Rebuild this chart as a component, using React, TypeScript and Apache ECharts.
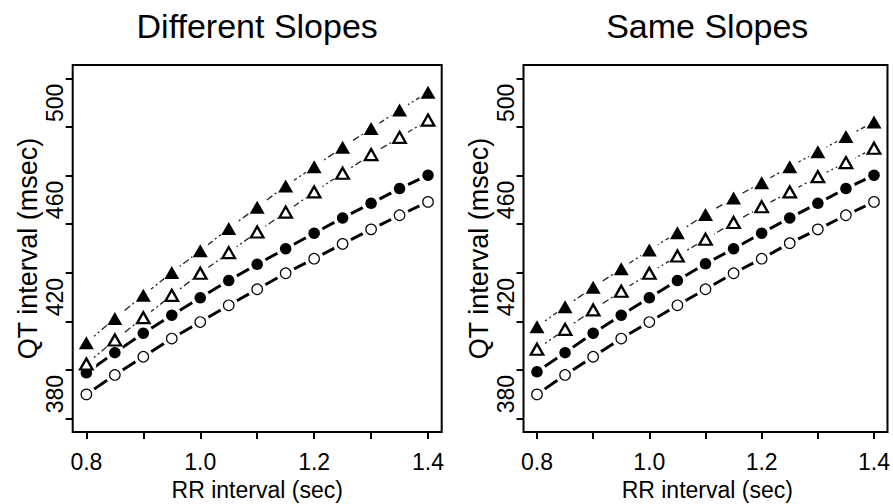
import { useEffect, useRef } from "react";
import * as echarts from "echarts";

// RR interval (sec) at which each point is plotted
const rrValues = [0.8, 0.85, 0.9, 0.95, 1.0, 1.05, 1.1, 1.15, 1.2, 1.25, 1.3, 1.35, 1.4];

// Axis ticks / labels
const xTickValues = [0.8, 0.9, 1.0, 1.1, 1.2, 1.3, 1.4];
const xLabelValues = [0.8, 1.0, 1.2, 1.4];
const yTickValues = [370, 390, 410, 430, 450, 470, 490, 510];
const yLabelValues = [380, 420, 460, 500];

const panelTitles = ["Different Slopes", "Same Slopes"];
const xAxisTitle = "RR interval (sec)";
const yAxisTitle = "QT interval (msec)";

// Left panel: Different Slopes (QT interval, msec)
const leftOpenCircle = [379.9, 387.9, 395.4, 402.9, 409.7, 416.6, 423.2, 429.8, 435.8, 441.9, 447.9, 453.7, 459.2];
const leftFilledCircle = [388.8, 397.1, 405.1, 412.5, 419.7, 426.8, 433.5, 439.9, 446.3, 452.6, 458.6, 464.7, 470.2];
const leftOpenTriangle = [392.4, 402.3, 411.5, 420.7, 429.8, 438.3, 446.8, 455.0, 463.3, 471.0, 478.7, 485.8, 492.9];
const leftFilledTriangle = [401.2, 411.2, 420.7, 430.1, 439.1, 448.2, 457.0, 465.8, 473.7, 481.7, 489.4, 497.1, 504.4];

// Right panel: Same Slopes (QT interval, msec)
const rightOpenCircle = [379.9, 387.9, 395.4, 402.9, 409.7, 416.6, 423.2, 429.8, 435.8, 442.2, 447.9, 453.7, 459.2];
const rightFilledCircle = [389.2, 397.1, 405.1, 412.5, 419.7, 426.8, 433.7, 439.9, 446.3, 452.6, 458.6, 464.7, 470.2];
const rightOpenTriangle = [398.5, 406.7, 414.7, 422.4, 429.8, 436.9, 443.8, 450.7, 457.2, 463.3, 469.6, 475.4, 481.3];
const rightFilledTriangle = [407.8, 416.0, 424.0, 431.7, 439.4, 446.5, 454.0, 460.8, 467.1, 473.7, 479.9, 486.1, 492.1];

const FONT = "'Liberation Sans', Arial, Helvetica, sans-serif";

type MarkerStyle = {
  symbol: string;
  size: number | number[];
  fill: string;
  border: number;
  halo: number;
  lineWidth: number;
  lineType: any;
  lineColor: string;
};

const openCircleStyle: MarkerStyle = { symbol: "circle", size: 10.5, fill: "#fff", border: 1.2, halo: 19, lineWidth: 3, lineType: "solid", lineColor: "#000" };
const filledCircleStyle: MarkerStyle = { symbol: "circle", size: 11.5, fill: "#000", border: 0, halo: 19, lineWidth: 3, lineType: "solid", lineColor: "#000" };
const openTriangleStyle: MarkerStyle = { symbol: "triangle", size: [12.5, 11], fill: "#fff", border: 2.3, halo: 20, lineWidth: 1.3, lineType: [2, 3, 7, 3], lineColor: "#222" };
const filledTriangleStyle: MarkerStyle = { symbol: "triangle", size: [15, 13], fill: "#000", border: 0, halo: 20, lineWidth: 1.3, lineType: [2, 3, 7, 3], lineColor: "#222" };

function groupSeries(values: number[], st: MarkerStyle, gi: number) {
  const data = rrValues.map((x, i) => [x, values[i]]);
  return [
    {
      type: "line",
      xAxisIndex: gi,
      yAxisIndex: gi,
      data,
      symbol: "none",
      showSymbol: false,
      silent: true,
      z: 2,
      lineStyle: { color: st.lineColor, width: st.lineWidth, type: st.lineType },
    },
    {
      type: "scatter",
      xAxisIndex: gi,
      yAxisIndex: gi,
      data,
      symbol: "circle",
      symbolSize: st.halo,
      silent: true,
      z: 3,
      itemStyle: { color: "#fff", opacity: 1 },
    },
    {
      type: "scatter",
      xAxisIndex: gi,
      yAxisIndex: gi,
      data,
      symbol: st.symbol,
      symbolSize: st.size,
      silent: true,
      z: 4,
      itemStyle: { color: st.fill, borderColor: "#000", borderWidth: st.border, opacity: 1 },
    },
  ];
}

const grids = [
  { left: 72.7, top: 65, width: 369, height: 367 },
  { left: 523.5, top: 65, width: 367.5, height: 367 },
];

export default function App() {
  const ref = useRef<HTMLDivElement>(null);

  useEffect(() => {
    if (!ref.current) return;
    const chart = echarts.init(ref.current, undefined, { renderer: "svg" });

    const xAxes = grids.map((_, gi) => ({
      type: "value",
      gridIndex: gi,
      min: 0.776,
      max: 1.424,
      axisLine: { show: false },
      splitLine: { show: false },
      axisTick: { show: true, length: 7, lineStyle: { color: "#000", width: 2 }, customValues: xTickValues },
      axisLabel: {
        customValues: xLabelValues,
        formatter: (v: number) => v.toFixed(1),
        margin: 18,
        fontSize: 23,
        color: "#000",
        fontFamily: FONT,
      },
    }));

    const yAxes = grids.map((_, gi) => ({
      type: "value",
      gridIndex: gi,
      min: 364.4,
      max: 515.6,
      axisLine: { show: false },
      splitLine: { show: false },
      axisTick: { show: true, length: 7, lineStyle: { color: "#000", width: 2 }, customValues: yTickValues },
      axisLabel: {
        customValues: yLabelValues,
        rotate: 90,
        margin: 6,
        fontSize: 23,
        color: "#000",
        fontFamily: FONT,
      },
    }));

    const series = [
      ...groupSeries(leftOpenCircle, openCircleStyle, 0),
      ...groupSeries(leftFilledCircle, filledCircleStyle, 0),
      ...groupSeries(leftOpenTriangle, openTriangleStyle, 0),
      ...groupSeries(leftFilledTriangle, filledTriangleStyle, 0),
      ...groupSeries(rightOpenCircle, openCircleStyle, 1),
      ...groupSeries(rightFilledCircle, filledCircleStyle, 1),
      ...groupSeries(rightOpenTriangle, openTriangleStyle, 1),
      ...groupSeries(rightFilledTriangle, filledTriangleStyle, 1),
    ];

    const graphics: any[] = [];
    grids.forEach((g, gi) => {
      const cx = g.left + g.width / 2;
      const cy = g.top + g.height / 2;
      graphics.push({
        type: "text",
        x: cx,
        y: 26,
        style: { text: panelTitles[gi], fontSize: 34, fontFamily: FONT, fill: "#000", align: "center", verticalAlign: "middle", textAlign: "center", textVerticalAlign: "middle" },
      });
      graphics.push({
        type: "text",
        x: cx,
        y: 490,
        style: { text: xAxisTitle, fontSize: 23, fontFamily: FONT, fill: "#000", align: "center", verticalAlign: "middle", textAlign: "center", textVerticalAlign: "middle" },
      });
      graphics.push({
        type: "text",
        x: g.left - 45,
        y: cy,
        rotation: Math.PI / 2,
        style: { text: yAxisTitle, fontSize: 27, fontFamily: FONT, fill: "#000", align: "center", verticalAlign: "middle", textAlign: "center", textVerticalAlign: "middle" },
      });
    });

    chart.setOption({
      animation: false,
      backgroundColor: "#fff",
      grid: grids.map((g) => ({ ...g, show: true, borderColor: "#000", borderWidth: 2, backgroundColor: "transparent" })),
      xAxis: xAxes,
      yAxis: yAxes,
      series,
      graphic: graphics,
    } as any);

    return () => chart.dispose();
  }, []);

  return <div ref={ref} style={{ position: "fixed", left: 0, top: 0, width: 893, height: 504, background: "#fff" }} />;
}
